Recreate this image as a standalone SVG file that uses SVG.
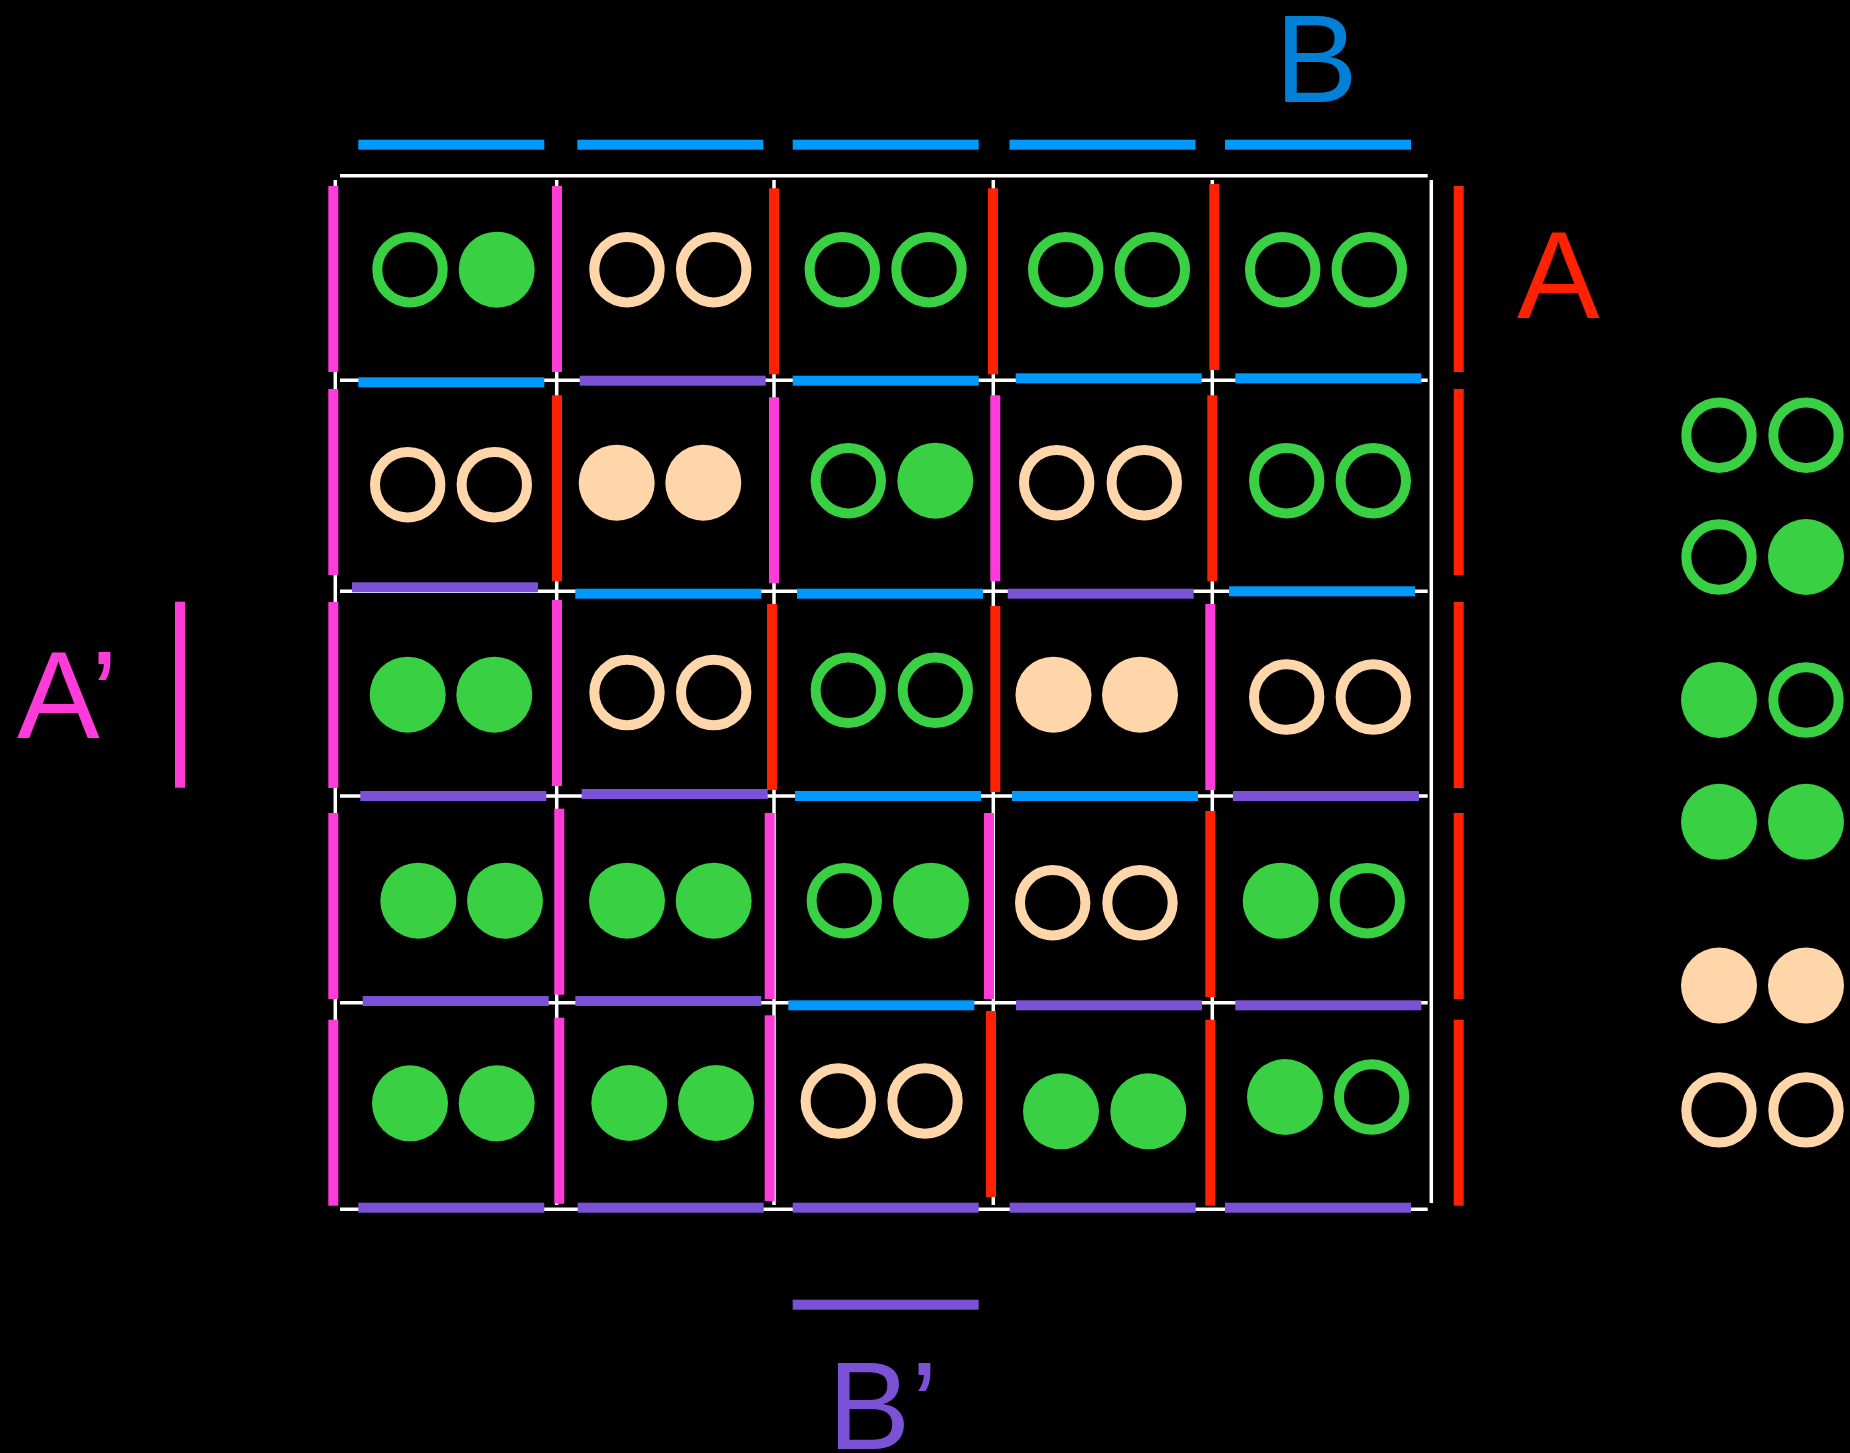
<svg xmlns="http://www.w3.org/2000/svg" width="1850" height="1453" viewBox="0 0 1850 1453">
<style>
.w{stroke:#FFFFFF;stroke-width:3.5;fill:none}
.mg{fill:#FF3CDA}.rd{fill:#FF2200}.bl{fill:#0099FF}.pp{fill:#7B52D6}
.gr{fill:none;stroke:#39D043;stroke-width:10}.gf{fill:#39D043}
.br{fill:none;stroke:#FFD6A9;stroke-width:10}.bf{fill:#FFD6A9}
.lbl{font-family:"Liberation Sans",Arial,sans-serif;font-size:124px}
</style>
<defs>
<rect id="h" width="186" height="10"/>
<rect id="v" width="10" height="186"/>
</defs>
<rect x="0" y="0" width="1850" height="1453" fill="#000000"/>

<g id="grid-lines">
<line class="w" x1="340" y1="175.7" x2="1427.7" y2="175.7"/>
<line class="w" x1="340" y1="380.3" x2="1427.7" y2="380.3"/>
<line class="w" x1="340" y1="591.3" x2="1427.7" y2="591.3"/>
<line class="w" x1="340" y1="796" x2="1427.7" y2="796"/>
<line class="w" x1="340" y1="1002.7" x2="1427.7" y2="1002.7"/>
<line class="w" x1="340" y1="1209.3" x2="1427.7" y2="1209.3"/>
<line class="w" x1="335.3" y1="180" x2="335.3" y2="1205"/>
<line class="w" x1="556.7" y1="180" x2="556.7" y2="1205"/>
<line class="w" x1="774" y1="180" x2="774" y2="1205"/>
<line class="w" x1="993.3" y1="180" x2="993.3" y2="1205"/>
<line class="w" x1="1212.3" y1="180" x2="1212.3" y2="1205"/>
<line class="w" x1="1431.3" y1="180" x2="1431.3" y2="1203"/>
</g>

<g id="connectors">
<!-- top B bars -->
<use href="#h" class="bl" x="358.3" y="139.7"/>
<use href="#h" class="bl" x="577.3" y="139.7"/>
<use href="#h" class="bl" x="792.7" y="139.7"/>
<use href="#h" class="bl" x="1009.5" y="139.7"/>
<use href="#h" class="bl" x="1225" y="139.7"/>
<!-- row1/2 -->
<use href="#h" class="bl" x="358.3" y="377.3"/>
<use href="#h" class="pp" x="579.7" y="375.7"/>
<use href="#h" class="bl" x="792.7" y="375.7"/>
<use href="#h" class="bl" x="1015.7" y="373.3"/>
<use href="#h" class="bl" x="1235.3" y="373.3"/>
<!-- row2/3 -->
<use href="#h" class="pp" x="352" y="582.3"/>
<use href="#h" class="bl" x="575.3" y="588.7"/>
<use href="#h" class="bl" x="797" y="588.7"/>
<use href="#h" class="pp" x="1007.7" y="588.7"/>
<use href="#h" class="bl" x="1229" y="586.3"/>
<!-- row3/4 -->
<use href="#h" class="pp" x="360.3" y="791"/>
<use href="#h" class="pp" x="581.7" y="789"/>
<use href="#h" class="bl" x="795" y="791"/>
<use href="#h" class="bl" x="1012" y="791"/>
<use href="#h" class="pp" x="1233" y="791"/>
<!-- row4/5 -->
<use href="#h" class="pp" x="362.7" y="996"/>
<use href="#h" class="pp" x="575.3" y="996"/>
<use href="#h" class="bl" x="788.3" y="1000.3"/>
<use href="#h" class="pp" x="1016" y="1000.3"/>
<use href="#h" class="pp" x="1235.3" y="1000.3"/>
<!-- bottom -->
<use href="#h" class="pp" x="358.3" y="1202.7"/>
<use href="#h" class="pp" x="577.7" y="1202.7"/>
<use href="#h" class="pp" x="792.7" y="1202.7"/>
<use href="#h" class="pp" x="1009.7" y="1202.7"/>
<use href="#h" class="pp" x="1225" y="1202.7"/>
<!-- B' bar -->
<use href="#h" class="pp" x="792.7" y="1299.7"/>

<!-- vertical row1 -->
<use href="#v" class="mg" x="328.3" y="186"/>
<use href="#v" class="mg" x="552" y="186"/>
<use href="#v" class="rd" x="769" y="188.3"/>
<use href="#v" class="rd" x="988" y="188.3"/>
<use href="#v" class="rd" x="1209.3" y="184"/>
<use href="#v" class="rd" x="1453.7" y="186"/>
<!-- row2 -->
<use href="#v" class="mg" x="328.3" y="389"/>
<use href="#v" class="rd" x="552" y="395.3"/>
<use href="#v" class="mg" x="769" y="397.3"/>
<use href="#v" class="mg" x="990.3" y="395.3"/>
<use href="#v" class="rd" x="1207.3" y="395.3"/>
<use href="#v" class="rd" x="1453.7" y="389"/>
<!-- row3 -->
<use href="#v" class="mg" x="328.3" y="602"/>
<use href="#v" class="mg" x="552" y="600"/>
<use href="#v" class="rd" x="767" y="604"/>
<use href="#v" class="rd" x="990.3" y="606"/>
<use href="#v" class="mg" x="1205.3" y="604"/>
<use href="#v" class="rd" x="1453.7" y="602"/>
<!-- row4 -->
<use href="#v" class="mg" x="328.3" y="813"/>
<use href="#v" class="mg" x="554.3" y="808.7"/>
<use href="#v" class="mg" x="764.7" y="813"/>
<use href="#v" class="mg" x="984" y="813"/>
<use href="#v" class="rd" x="1205.3" y="811"/>
<use href="#v" class="rd" x="1453.7" y="813"/>
<!-- row5 -->
<use href="#v" class="mg" x="328.3" y="1019.7"/>
<use href="#v" class="mg" x="554.3" y="1017.7"/>
<use href="#v" class="mg" x="764.7" y="1015.3"/>
<use href="#v" class="rd" x="986" y="1011"/>
<use href="#v" class="rd" x="1205.3" y="1019.7"/>
<use href="#v" class="rd" x="1453.7" y="1019.7"/>
<!-- A' bar -->
<use href="#v" class="mg" x="175" y="601.7"/>
</g>

<g id="cell-r1c1"><circle class="gr" cx="410" cy="269.7" r="32.7"/><circle class="gf" cx="496.7" cy="269.7" r="38"/></g>
<g id="cell-r1c2"><circle class="br" cx="627" cy="269.7" r="32.7"/><circle class="br" cx="713.7" cy="269.7" r="32.7"/></g>
<g id="cell-r1c3"><circle class="gr" cx="842.3" cy="269.7" r="32.7"/><circle class="gr" cx="929" cy="269.7" r="32.7"/></g>
<g id="cell-r1c4"><circle class="gr" cx="1065.7" cy="269.7" r="32.7"/><circle class="gr" cx="1152.3" cy="269.7" r="32.7"/></g>
<g id="cell-r1c5"><circle class="gr" cx="1282.7" cy="269.7" r="32.7"/><circle class="gr" cx="1369.3" cy="269.7" r="32.7"/></g>

<g id="cell-r2c1"><circle class="br" cx="407.7" cy="484.7" r="32.7"/><circle class="br" cx="494.3" cy="484.7" r="32.7"/></g>
<g id="cell-r2c2"><circle class="bf" cx="616.7" cy="482.7" r="38"/><circle class="bf" cx="703.3" cy="482.7" r="38"/></g>
<g id="cell-r2c3"><circle class="gr" cx="848.3" cy="480.7" r="32.7"/><circle class="gf" cx="935.3" cy="480.7" r="38"/></g>
<g id="cell-r2c4"><circle class="br" cx="1056.7" cy="482.7" r="32.7"/><circle class="br" cx="1144.3" cy="482.7" r="32.7"/></g>
<g id="cell-r2c5"><circle class="gr" cx="1286.7" cy="480.7" r="32.7"/><circle class="gr" cx="1373.3" cy="480.7" r="32.7"/></g>

<g id="cell-r3c1"><circle class="gf" cx="407.7" cy="694.7" r="38"/><circle class="gf" cx="494.3" cy="694.7" r="38"/></g>
<g id="cell-r3c2"><circle class="br" cx="627" cy="692.5" r="32.7"/><circle class="br" cx="713.7" cy="692.5" r="32.7"/></g>
<g id="cell-r3c3"><circle class="gr" cx="848.3" cy="690.3" r="32.7"/><circle class="gr" cx="935.3" cy="690.3" r="32.7"/></g>
<g id="cell-r3c4"><circle class="bf" cx="1053.5" cy="694.7" r="38"/><circle class="bf" cx="1140" cy="694.7" r="38"/></g>
<g id="cell-r3c5"><circle class="br" cx="1286.7" cy="697" r="32.7"/><circle class="br" cx="1373.3" cy="697" r="32.7"/></g>

<g id="cell-r4c1"><circle class="gf" cx="418.3" cy="900.7" r="38"/><circle class="gf" cx="505" cy="900.7" r="38"/></g>
<g id="cell-r4c2"><circle class="gf" cx="627" cy="900.7" r="38"/><circle class="gf" cx="713.7" cy="900.7" r="38"/></g>
<g id="cell-r4c3"><circle class="gr" cx="844.3" cy="900.7" r="32.7"/><circle class="gf" cx="931" cy="900.7" r="38"/></g>
<g id="cell-r4c4"><circle class="br" cx="1052.7" cy="902.7" r="32.7"/><circle class="br" cx="1140" cy="902.7" r="32.7"/></g>
<g id="cell-r4c5"><circle class="gf" cx="1280.7" cy="900.7" r="38"/><circle class="gr" cx="1367.3" cy="900.7" r="32.7"/></g>

<g id="cell-r5c1"><circle class="gf" cx="410" cy="1103.3" r="38"/><circle class="gf" cx="496.7" cy="1103.3" r="38"/></g>
<g id="cell-r5c2"><circle class="gf" cx="629.3" cy="1103" r="38"/><circle class="gf" cx="716" cy="1103" r="38"/></g>
<g id="cell-r5c3"><circle class="br" cx="838.3" cy="1101" r="32.7"/><circle class="br" cx="925" cy="1101" r="32.7"/></g>
<g id="cell-r5c4"><circle class="gf" cx="1061" cy="1111.3" r="38"/><circle class="gf" cx="1148.3" cy="1111.3" r="38"/></g>
<g id="cell-r5c5"><circle class="gf" cx="1285" cy="1097" r="38"/><circle class="gr" cx="1371.7" cy="1097" r="32.7"/></g>

<g id="legend">
<g id="legend-1"><circle class="gr" cx="1719" cy="435.2" r="32.7"/><circle class="gr" cx="1806" cy="435.2" r="32.7"/></g>
<g id="legend-2"><circle class="gr" cx="1719" cy="557" r="32.7"/><circle class="gf" cx="1806" cy="557" r="38"/></g>
<g id="legend-3"><circle class="gf" cx="1719" cy="700" r="38"/><circle class="gr" cx="1806" cy="700" r="32.7"/></g>
<g id="legend-4"><circle class="gf" cx="1719" cy="821.8" r="38"/><circle class="gf" cx="1806" cy="821.8" r="38"/></g>
<g id="legend-5"><circle class="bf" cx="1719" cy="985.5" r="38"/><circle class="bf" cx="1806" cy="985.5" r="38"/></g>
<g id="legend-6"><circle class="br" cx="1719" cy="1109.9" r="32.7"/><circle class="br" cx="1806" cy="1109.9" r="32.7"/></g>
</g>

<g id="labels">
<text id="label-B" class="lbl" x="1275" y="101.7" fill="#0080D6">B</text>
<text id="label-A" class="lbl" x="1517" y="317.7" fill="#FF2200">A</text>
<text id="label-A-prime" class="lbl" x="17" y="738.3" fill="#FF3CDA">A’</text>
<text id="label-B-prime" class="lbl" x="827.7" y="1449.3" fill="#7B52D6">B’</text>
</g>
</svg>
